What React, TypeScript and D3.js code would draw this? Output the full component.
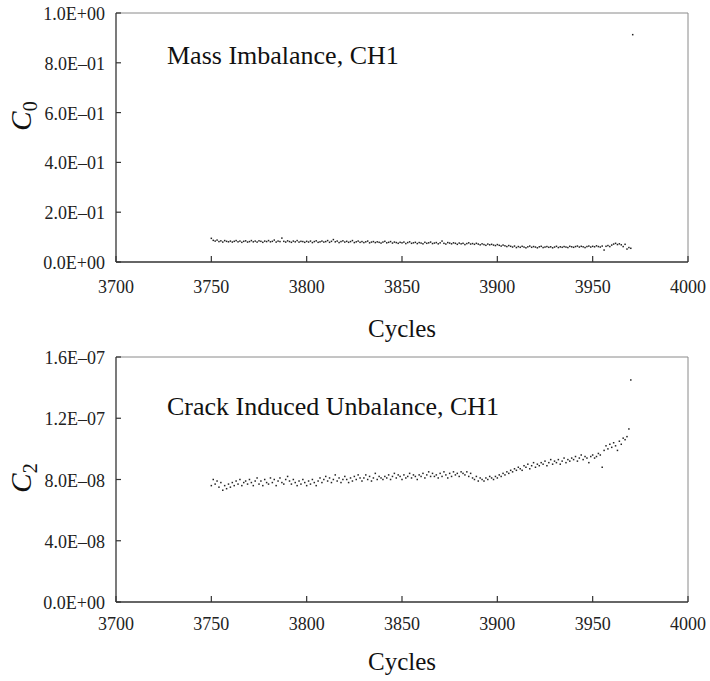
import React from "react";
import * as d3 from "d3";

// Cycle axis
const xTicks = [3700, 3750, 3800, 3850, 3900, 3950, 4000];
const startCycle = 3750;

// C0 (mass imbalance), thousandths, one value per cycle from 3750
const c0Milli = [
  95, 87, 84, 88, 82, 85, 80, 86, 83, 81,
  84, 80, 83, 86, 81, 84, 79, 83, 85, 80,
  82, 86, 81, 84, 80, 85, 83, 79, 84, 82,
  86, 81, 83, 88, 80, 84, 82, 96, 83, 80,
  85, 82, 79, 84, 81, 86, 80, 83, 82, 79,
  83, 80, 84, 78, 82, 85, 79, 81, 84, 80,
  82, 86, 79, 83, 90, 81, 84, 78, 82, 85,
  80, 83, 79, 82, 86, 78, 81, 84, 79, 82,
  78, 81, 84, 77, 80, 82, 78, 81, 79, 76,
  80, 83, 77, 79, 82, 76, 80, 78, 75, 79,
  77, 80, 74, 78, 81, 75, 77, 79, 74, 78,
  76, 73, 79, 75, 77, 80, 74, 76, 78, 73,
  77, 84, 75, 72, 78, 76, 73, 77, 75, 71,
  76, 73, 75, 70, 74, 77, 72, 74, 71, 75,
  72, 69, 73, 70, 67, 72, 69, 71, 68, 66,
  70, 67, 64, 68, 65, 62, 66, 63, 60, 64,
  58, 62, 59, 63, 60, 57, 61, 64, 59, 62,
  60, 57, 61, 63, 58, 60, 62, 59, 61, 57,
  60, 63, 58, 61, 59, 62, 60, 58, 63, 61,
  59, 62, 64, 60, 63, 61, 58, 62, 64, 60,
  63, 61, 65, 62, 60, 64, 48, 63, 66, 62,
  68, 72, 75, 70, 73, 69, 62, 71, 52, 58,
  55, 913,
];
const c0Ticks = [0, 0.2, 0.4, 0.6, 0.8, 1.0];
const c0TickLabels = ["0.0E+00", "2.0E\u201301", "4.0E\u201301", "6.0E\u201301", "8.0E\u201301", "1.0E+00"];

// C2 (crack induced unbalance), units of 1e-9, one value per cycle from 3750
const c2Nano = [
  76, 80, 77, 79, 75, 78, 73, 76, 74, 77,
  75, 78, 76, 79, 77, 80, 76, 78, 79, 77,
  80, 78, 76, 79, 81, 77, 79, 76, 80, 78,
  77, 81, 78, 80, 76, 79, 81, 78, 77, 80,
  82, 79, 77, 80, 78, 76, 79, 77, 80, 78,
  76, 79, 77, 80, 78, 76, 79, 81, 78, 80,
  82, 79, 81, 78, 80, 83, 79, 81, 78, 80,
  82, 80, 78, 81, 79, 82, 80, 83, 81, 79,
  81, 83, 80, 82, 79, 81, 84, 80, 82, 81,
  80, 82, 81, 83, 80, 82, 84, 81, 83, 82,
  80, 83, 81, 82, 84, 81, 83, 82, 80, 83,
  82, 84, 81, 83, 85, 82, 84, 82, 83, 81,
  84, 82, 85, 83, 81, 84, 82, 85, 83, 84,
  82, 85, 84, 83, 85, 82, 84, 81, 80, 82,
  79, 81, 80, 79, 81, 80, 82, 81, 80, 82,
  81, 83, 82, 84, 83, 85, 84, 86, 85, 87,
  86, 88, 87, 86, 89, 88, 90, 87, 89, 91,
  88, 90, 89, 91, 90, 92, 89, 91, 93, 90,
  92, 91, 93, 90, 92, 94, 91, 93, 92, 94,
  93, 95, 92, 94, 96, 93, 95, 94, 91, 95,
  96, 94, 95, 97, 96, 88, 99, 102, 100, 103,
  101, 104, 102, 99, 105, 103, 107, 106, 108, 113,
  145,
];
const c2Ticks = [0, 4e-8, 8e-8, 1.2e-7, 1.6e-7];
const c2TickLabels = ["0.0E+00", "4.0E\u201308", "8.0E\u201308", "1.2E\u201307", "1.6E\u201307"];

const FONT = "'Liberation Serif', 'Times New Roman', serif";

type PanelProps = {
  top: number;
  bottom: number;
  values: number[];
  yMax: number;
  yTicks: number[];
  yTickLabels: string[];
  title: string;
  titleY: number;
  sub: string;
  labelY: number;
  xLabelY: number;
  cyclesY: number;
};

function Panel(p: PanelProps) {
  const left = 116;
  const right = 688;
  const x = d3.scaleLinear().domain([3700, 4000]).range([left, right]);
  const y = d3.scaleLinear().domain([0, p.yMax]).range([p.bottom, p.top]);
  return (
    <g>
      <line x1={left} x2={right} y1={p.top} y2={p.top} stroke="#8a8a8a" strokeWidth={1} />
      <line x1={right} x2={right} y1={p.top} y2={p.bottom} stroke="#8a8a8a" strokeWidth={1} />
      <line x1={left} x2={left} y1={p.top} y2={p.bottom} stroke="#333" strokeWidth={1.3} />
      <line x1={left} x2={right} y1={p.bottom} y2={p.bottom} stroke="#333" strokeWidth={1.3} />
      {xTicks.map((t) => (
        <g key={t}>
          <line x1={x(t)} x2={x(t)} y1={p.bottom} y2={p.bottom - 6} stroke="#333" strokeWidth={1.2} />
          <text x={x(t)} y={p.xLabelY} textAnchor="middle" fontSize={18} fontFamily={FONT} fill="#222">
            {t}
          </text>
        </g>
      ))}
      {p.yTicks.map((t, i) => (
        <g key={i}>
          <line x1={left} x2={left + 5} y1={y(t)} y2={y(t)} stroke="#333" strokeWidth={1.2} />
          <text x={105} y={y(t) + 7} textAnchor="end" fontSize={18} fontFamily={FONT} fill="#222">
            {p.yTickLabels[i]}
          </text>
        </g>
      ))}
      {p.values.map((v, i) => (
        <rect
          key={i}
          x={x(startCycle + i) - 0.75}
          y={y(v) - 0.75}
          width={1.5}
          height={1.5}
          fill="#222"
        />
      ))}
      <text x={167} y={p.titleY} fontSize={26} fontFamily={FONT} fill="#111">
        {p.title}
      </text>
      <text x={(left + right) / 2} y={p.cyclesY} textAnchor="middle" fontSize={25} fontFamily={FONT} fill="#111">
        Cycles
      </text>
      <text
        transform={`translate(31, ${p.labelY}) rotate(-90)`}
        textAnchor="middle"
        fontFamily={FONT}
        fill="#111"
      >
        <tspan fontSize={29} fontStyle="italic">C</tspan>
        <tspan fontSize={20} dy={6}>{p.sub}</tspan>
      </text>
    </g>
  );
}

export default function App() {
  const c0 = c0Milli.map((v) => v / 1000);
  const c2 = c2Nano.map((v) => v * 1e-9);
  return (
    <svg
      width={710}
      height={681}
      viewBox="0 0 710 681"
      style={{ position: "absolute", left: 0, top: 0, display: "block", background: "#fff" }}
    >
      <Panel
        top={13}
        bottom={262}
        values={c0}
        yMax={1.0}
        yTicks={c0Ticks}
        yTickLabels={c0TickLabels}
        title="Mass Imbalance, CH1"
        titleY={64}
        sub="0"
        labelY={116}
        xLabelY={293}
        cyclesY={337}
      />
      <Panel
        top={357}
        bottom={602}
        values={c2}
        yMax={1.6e-7}
        yTicks={c2Ticks}
        yTickLabels={c2TickLabels}
        title="Crack Induced Unbalance, CH1"
        titleY={415}
        sub="2"
        labelY={478}
        xLabelY={630}
        cyclesY={670}
      />
    </svg>
  );
}
